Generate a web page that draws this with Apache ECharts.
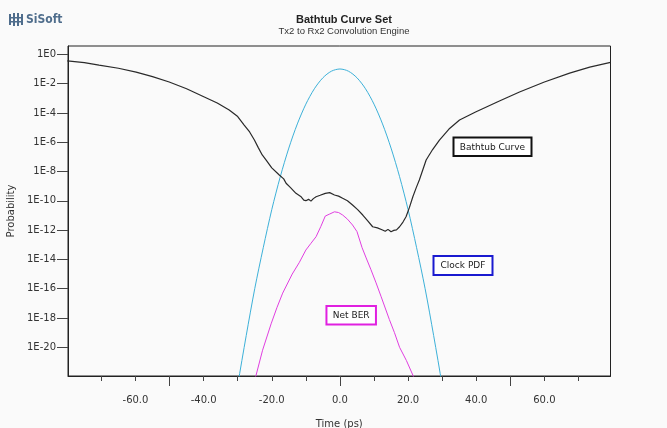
<!DOCTYPE html>
<html>
<head>
<meta charset="utf-8">
<script src="https://cdn.jsdelivr.net/npm/echarts@6/dist/echarts.min.js"></script>
<style>
  html, body { margin: 0; padding: 0; background: #fafafa; }
  #chart { width: 667px; height: 428px; }
</style>
</head>
<body>
<div id="chart"></div>
<script>
// Time axis (ps) and probabilities stored as log10 exponents (1E-n)
const bathtubTime = [-80, -75, -70.7, -65, -59.8, -55, -50.1, -45, -39.8, -36, -32.5, -30, -28.1, -26.5, -25.1, -24, -22.8, -21.7, -20, -17.8, -16.5, -15.8, -14.5, -12.9, -11.5, -10.6, -10, -9.2, -8.5, -7.8, -7, -5.8, -4.3, -3, -1.6, -0.4, 0.8, 2.2, 3.7, 5.2, 6.7, 8.1, 9.6, 11, 12.5, 13.3, 14.1, 15, 15.8, 16.6, 17.5, 18.5, 19.4, 20.4, 21.4, 22.4, 23.3, 24.3, 25.3, 27.2, 29.2, 32, 35.1, 39.8, 46.8, 52.7, 60, 67.4, 73.3, 79.4];
const bathtubLog = [-0.44, -0.56, -0.73, -0.95, -1.21, -1.52, -1.89, -2.35, -2.91, -3.32, -3.8, -4.25, -4.83, -5.3, -5.85, -6.35, -6.87, -7.2, -7.75, -8.24, -8.5, -8.8, -9.1, -9.49, -9.7, -9.95, -9.99, -9.9, -10.02, -9.85, -9.72, -9.62, -9.49, -9.44, -9.6, -9.68, -9.83, -10.0, -10.29, -10.6, -10.97, -11.35, -11.77, -11.85, -11.99, -12.08, -11.95, -12.11, -12.02, -11.98, -11.77, -11.45, -11.09, -10.45, -9.72, -9.1, -8.58, -7.9, -7.21, -6.5, -5.85, -5.1, -4.48, -3.94, -3.19, -2.57, -1.89, -1.28, -0.87, -0.55];

const clockTime = [-32.5, -30, -27.5, -25, -22.5, -20, -17.5, -15, -12.5, -10, -7.5, -5, -2.5, 0, 2.5, 5, 7.5, 10, 12.5, 15, 17.5, 20, 22.5, 25, 27.5, 30, 32.5];
const clockLog = [-26.3, -22.6, -19.2, -16.0, -13.2, -10.6, -8.35, -6.4, -4.75, -3.4, -2.35, -1.6, -1.15, -1.0, -1.15, -1.6, -2.35, -3.4, -4.75, -6.4, -8.35, -10.6, -13.2, -16.0, -19.2, -22.6, -26.3];

const netBerTime = [-26, -24.6, -22.7, -20.2, -18.5, -16.8, -14, -11.9, -10, -8.5, -7, -5.6, -4.3, -3, -1.6, -0.4, 0.8, 2.2, 3.7, 5, 6.5, 7.7, 9.1, 10.6, 12.1, 14.5, 16, 17.5, 19.5, 21.4, 23];
const netBerLog = [-23.0, -21.9, -20.2, -18.4, -17.3, -16.3, -15.0, -14.2, -13.36, -12.9, -12.45, -11.75, -11.04, -10.9, -10.75, -10.8, -10.97, -11.25, -11.65, -12.1, -13.2, -13.9, -14.7, -15.6, -16.55, -18.1, -19.0, -20.0, -20.9, -21.9, -23.0];

// Axis ticks and labels
const timeTicks = [-70, -60, -50, -40, -30, -20, -10, 0, 10, 20, 30, 40, 50, 60, 70];
const timeLabels = [-60, -40, -20, 0, 20, 40, 60];
const timeMajorTicks = [-50, 0, 50];
const probTicks = [-20, -18, -16, -14, -12, -10, -8, -6, -4, -2, 0];

function pairs(xs, ys) { return xs.map((x, i) => [x, ys[i]]); }

const FONT = 'DejaVu Sans';
const chart = echarts.init(document.getElementById('chart'), null, { renderer: 'canvas' });

function boxLabel(text, cx, cy, w, h, color) {
  return {
    type: 'group',
    children: [
      { type: 'rect', shape: { x: cx - w / 2, y: cy - h / 2, width: w, height: h },
        style: { fill: '#ffffff', stroke: color, lineWidth: 2 } },
      { type: 'text', x: cx, y: cy + 0.5,
        style: { text: text, fill: '#222', font: '9px "' + FONT + '"', align: 'center', verticalAlign: 'middle' } }
    ]
  };
}

const gridBox = { left: 68, top: 46, right: 56.5, bottom: 52, outerBoundsMode: 'none', containLabel: false };

const option = {
  backgroundColor: '#fafafa',
  animation: false,
  title: {
    text: 'Bathtub Curve Set',
    subtext: 'Tx2 to Rx2 Convolution Engine',
    left: 339, top: 9, textAlign: 'center', itemGap: 1,
    textStyle: { fontFamily: 'Liberation Sans', fontWeight: 'bold', fontSize: 11, color: '#222' },
    subtextStyle: { fontFamily: 'Liberation Sans', fontSize: 9.5, color: '#333' }
  },
  grid: [
    Object.assign({ show: true, borderColor: '#222', borderWidth: 1, backgroundColor: '#fafafa' }, gridBox),
    Object.assign({ show: false }, gridBox)
  ],
  xAxis: [{
    type: 'value', gridIndex: 0, min: -79.8, max: 79.4,
    name: 'Time (ps)', nameLocation: 'middle', nameGap: 43,
    nameTextStyle: { fontFamily: FONT, fontSize: 10, color: '#333' },
    axisLine: { onZero: false, lineStyle: { color: '#222', width: 1 } },
    axisTick: { show: true, length: 5, customValues: timeTicks, lineStyle: { color: '#444' } },
    axisLabel: { customValues: timeLabels, margin: 19, fontFamily: FONT, fontSize: 10, color: '#333',
      formatter: v => v.toFixed(1) },
    splitLine: { show: false }
  }, {
    // longer ticks every 50 ps, on an overlaid grid of the same size
    type: 'value', gridIndex: 1, min: -79.8, max: 79.4, position: 'bottom',
    axisLine: { show: false, onZero: false },
    axisTick: { show: true, length: 10, customValues: timeMajorTicks, lineStyle: { color: '#444' } },
    axisLabel: { show: false },
    splitLine: { show: false }
  }],
  yAxis: [{
    type: 'value', gridIndex: 0, min: -21.96, max: 0.57,
    name: 'Probability', nameLocation: 'middle', nameGap: 49, nameRotate: 90,
    nameTextStyle: { fontFamily: FONT, fontSize: 10, color: '#333' },
    axisLine: { onZero: false, lineStyle: { color: '#222', width: 1 } },
    axisTick: { show: true, length: 11, customValues: probTicks, lineStyle: { color: '#444' } },
    axisLabel: { customValues: probTicks, margin: 12, fontFamily: FONT, fontSize: 10, color: '#333',
      formatter: v => (v === 0 ? '1E0' : '1E' + v) },
    splitLine: { show: false }
  }, {
    type: 'value', gridIndex: 1, min: -21.96, max: 0.57, show: false
  }],
  series: [{
    name: 'Clock PDF', type: 'line', data: pairs(clockTime, clockLog), showSymbol: false, smooth: 0.3,
    lineStyle: { color: '#3cb0d8', width: 1 }, clip: true
  }, {
    name: 'Net BER', type: 'line', data: pairs(netBerTime, netBerLog), showSymbol: false,
    lineStyle: { color: '#e03ee0', width: 1 }, clip: true
  }, {
    name: 'Bathtub Curve', type: 'line', data: pairs(bathtubTime, bathtubLog), showSymbol: false,
    lineStyle: { color: '#2a2a2a', width: 1.2 }, clip: true
  }],
  graphic: [
    // SiSoft mark in the top-left corner
    {
      type: 'group', left: 9, top: 13,
      children: [
        { type: 'rect', shape: { x: 0, y: 1, width: 2, height: 11 }, style: { fill: '#4f6d8c' } },
        { type: 'rect', shape: { x: 4, y: 0, width: 2, height: 13 }, style: { fill: '#4f6d8c' } },
        { type: 'rect', shape: { x: 8, y: 0, width: 2, height: 13 }, style: { fill: '#4f6d8c' } },
        { type: 'rect', shape: { x: 12, y: 1, width: 2, height: 11 }, style: { fill: '#4f6d8c' } },
        { type: 'rect', shape: { x: 0, y: 4, width: 14, height: 1.5 }, style: { fill: '#4f6d8c' } },
        { type: 'rect', shape: { x: 0, y: 8, width: 14, height: 1.5 }, style: { fill: '#4f6d8c' } },
        { type: 'text', x: 17, y: 6.5, style: { text: 'SiSoft', fill: '#4f6d8c', font: 'bold 12px "DejaVu Sans Condensed", "DejaVu Sans"', verticalAlign: 'middle' } }
      ]
    },
    boxLabel('Bathtub Curve', 492.5, 146.8, 78, 18.5, '#111111'),
    boxLabel('Clock PDF', 463, 265.5, 59, 19, '#1a1ad0'),
    boxLabel('Net BER', 351.2, 315.2, 49.5, 18.5, '#e020e0')
  ]
};

chart.setOption(option);
</script>
</body>
</html>
